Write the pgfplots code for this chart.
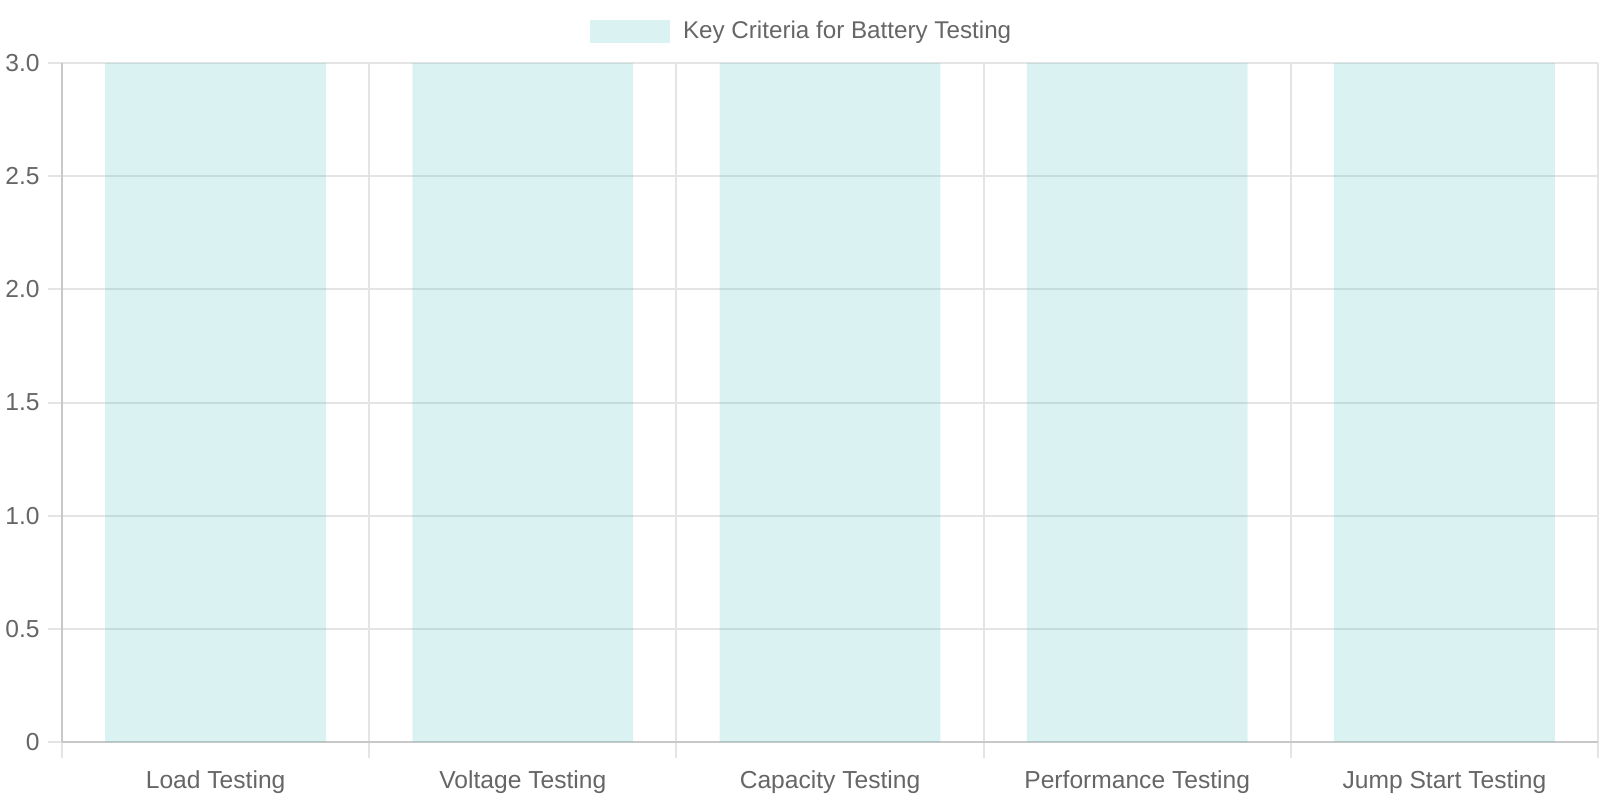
\documentclass[border=0pt]{standalone}
\usepackage{pgfplots}
\pgfplotsset{compat=1.18}
\usepackage{fontspec}
\setmainfont{Liberation Sans}
\definecolor{barc}{RGB}{75,192,192}
\definecolor{gridc}{RGB}{228,228,228}
\definecolor{axc}{RGB}{200,200,200}
\definecolor{txt}{RGB}{102,102,102}
\begin{document}
\begin{tikzpicture}
\begin{axis}[
  at={(31pt,29pt)}, anchor=south west,
  scale only axis, width=768pt, height=339.5pt,
  xmin=-0.5, xmax=4.5, ymin=0, ymax=3,
  ytick={0,0.5,...,3},
  yticklabels={0,0.5,1.0,1.5,2.0,2.5,3.0},
  xtick={0,1,2,3,4},
  xticklabels={Load Testing,Voltage Testing,Capacity Testing,Performance Testing,Jump Start Testing},
  minor xtick={-0.5,0.5,1.5,2.5,3.5,4.5},
  ymajorgrids, xminorgrids,
  grid style={draw=gridc, line width=1pt},
  minor grid style={draw=gridc, line width=1pt},
  axis line style={draw=axc, line width=1pt},
  axis x line*=bottom, axis y line*=left,
  tick align=outside,
  major tick length=7pt, minor tick length=8pt,
  xtick style={draw=none},
  minor x tick style={draw=gridc, line width=1pt},
  ytick style={draw=gridc, line width=1pt},
  tick label style={font=\fontsize{12.3}{14}\selectfont, text=txt},
  /pgf/number format/assume math mode=true,
  yticklabel style={anchor=east, inner sep=0pt, xshift=-4pt},
  xticklabel style={anchor=base, inner sep=0pt, yshift=-16pt},
  legend style={at={(0.3435,1.0462)}, anchor=west, draw=none, fill=none,
    font=\fontsize{12.1}{14}\selectfont, text=txt, inner sep=0pt,
    nodes={inner sep=0pt}, column sep=6.5pt},
  legend image code/.code={\fill[barc, fill opacity=0.2] (0pt,-5.85pt) rectangle (40pt,5.85pt);},
  clip=false,
]
\addplot[ybar, bar width=0.719, fill=barc, fill opacity=0.2, draw=none]
  coordinates {(0,3) (1,3) (2,3) (3,3) (4,3)};
\addlegendentry{Key Criteria for Battery Testing}
\end{axis}
\pgfresetboundingbox
\path[use as bounding box] (0,0) rectangle (800pt,400pt);
\end{tikzpicture}
\end{document}
